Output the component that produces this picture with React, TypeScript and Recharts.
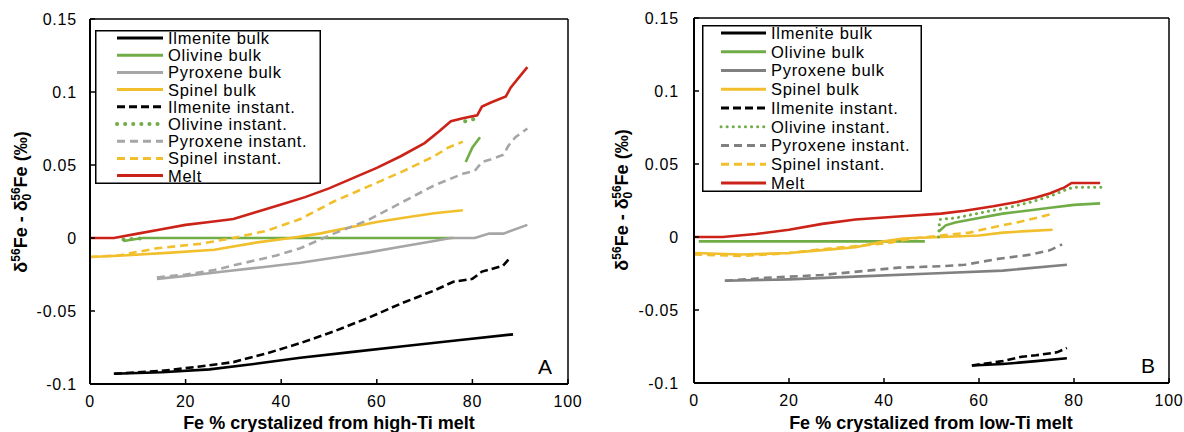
import React from 'react';
import { LineChart, Line, XAxis, YAxis, Legend, ReferenceLine, ReferenceDot } from 'recharts';

type Pair = [number, number | null];

const FONT = '"Liberation Sans", Arial, Helvetica, sans-serif';
const X_TICKS = [0, 20, 40, 60, 80, 100];
const Y_TICKS = [-0.1, -0.05, 0, 0.05, 0.1, 0.15];

// ---- panel A: high-Ti melt ----
const ilmBulkA: Pair[] = [[5, -0.093], [15, -0.092], [25, -0.09], [35, -0.086], [44, -0.082], [55, -0.078], [66, -0.074], [77, -0.07], [88.5, -0.066]];
const oliBulkA: Pair[] = [[7, -0.002], [11, 0], [76, 0], [77, null], [78.6, 0.052], [80, 0.062], [81.6, 0.069]];
const pyxBulkA: Pair[] = [[14, -0.028], [20, -0.026], [28, -0.023], [36, -0.02], [44, -0.017], [52, -0.013], [58, -0.01], [65, -0.006], [72, -0.002], [75.5, 0], [80.5, 0], [83.5, 0.003], [86.5, 0.003], [91.5, 0.009]];
const spiBulkA: Pair[] = [[0, -0.013], [7, -0.012], [17, -0.01], [26, -0.008], [35, -0.003], [42, 0], [48, 0.003], [54, 0.007], [60, 0.011], [66, 0.014], [72, 0.017], [78, 0.019]];
const ilmInstA: Pair[] = [[5, -0.093], [15, -0.091], [23, -0.088], [30, -0.085], [37, -0.079], [44, -0.072], [51, -0.064], [58, -0.055], [65, -0.045], [72, -0.036], [76, -0.03], [80, -0.028], [82, -0.023], [86.4, -0.019], [88, -0.013]];
const oliInstA: Pair[] = [[7, -0.001], [12, 0], [14, null], [78.5, 0.08], [81, 0.082]];
const pyxInstA: Pair[] = [[14, -0.027], [20, -0.025], [26, -0.022], [31, -0.018], [39, -0.012], [44, -0.007], [51, 0.003], [58, 0.012], [65, 0.024], [72, 0.036], [78, 0.044], [80.5, 0.046], [82, 0.052], [84, 0.054], [86.5, 0.057], [87.5, 0.063], [89, 0.069], [91.5, 0.075]];
const spiInstA: Pair[] = [[0, -0.013], [6, -0.012], [14, -0.007], [23, -0.004], [30, 0], [37, 0.005], [44, 0.013], [51, 0.025], [58, 0.035], [65, 0.045], [72, 0.056], [75, 0.062], [78, 0.066]];
const meltA: Pair[] = [[0, 0], [5, 0], [10, 0.003], [15, 0.006], [20, 0.009], [25, 0.011], [30, 0.013], [35, 0.018], [40, 0.023], [45, 0.028], [50, 0.034], [55, 0.041], [60, 0.048], [65, 0.056], [70, 0.065], [73, 0.073], [75.5, 0.08], [78, 0.082], [81, 0.084], [82, 0.09], [84, 0.093], [87, 0.097], [88, 0.103], [90, 0.111], [91.5, 0.117]];

// ---- panel B: low-Ti melt ----
const ilmBulkB: Pair[] = [[58.5, -0.088], [65, -0.087], [72, -0.085], [78.5, -0.083]];
const oliBulkB: Pair[] = [[1, -0.003], [48.6, -0.003], [50, null], [51.6, 0.004], [53, 0.008], [55, 0.01], [60, 0.013], [65, 0.016], [70, 0.018], [75, 0.02], [80, 0.022], [85.5, 0.023]];
const pyxBulkB: Pair[] = [[6.5, -0.03], [20, -0.029], [35, -0.027], [50, -0.025], [65, -0.023], [78.5, -0.019]];
const spiBulkB: Pair[] = [[0, -0.011], [10, -0.012], [20, -0.011], [27, -0.009], [34, -0.007], [40, -0.003], [44, -0.001], [52, 0], [60, 0.001], [65, 0.003], [70, 0.004], [75.5, 0.005]];
const ilmInstB: Pair[] = [[58.5, -0.088], [65, -0.085], [69, -0.082], [72, -0.081], [76.4, -0.079], [78.5, -0.076]];
const oliInstB: Pair[] = [[51.5, 0], [51.7, 0.012], [55, 0.013], [61, 0.017], [66, 0.02], [71, 0.024], [75, 0.028], [78, 0.032], [79.8, 0.034], [86, 0.034]];
const pyxInstB: Pair[] = [[6.5, -0.03], [15, -0.028], [27, -0.026], [43, -0.021], [52, -0.02], [57, -0.019], [64, -0.015], [71, -0.012], [75, -0.009], [77.5, -0.005]];
const spiInstB: Pair[] = [[0, -0.012], [10, -0.013], [20, -0.011], [28, -0.008], [35, -0.006], [41, -0.004], [46, -0.001], [52, 0.001], [58, 0.003], [62, 0.006], [68, 0.01], [72, 0.013], [75.5, 0.016]];
const meltB: Pair[] = [[0, 0], [6, 0], [13, 0.002], [20, 0.005], [27, 0.009], [34, 0.012], [43, 0.014], [52, 0.016], [57, 0.018], [63, 0.021], [68, 0.024], [72, 0.027], [75, 0.03], [78, 0.034], [79.5, 0.037], [85.5, 0.037]];

const BLACK = '#000000';
const GREEN = '#70ad47';
const YELLOW = '#f2bf2c';
const RED = '#cc2318';

interface Series {
  name: string;
  pts: Pair[];
  color: string;
  dash?: string;
  dotted?: boolean;
}

const makeSeries = (pts: Pair[][], pyxColor: string, dotGap: string): Series[] => [
  { name: 'Ilmenite bulk', pts: pts[0], color: BLACK },
  { name: 'Olivine bulk', pts: pts[1], color: GREEN },
  { name: 'Pyroxene bulk', pts: pts[2], color: pyxColor },
  { name: 'Spinel bulk', pts: pts[3], color: YELLOW },
  { name: 'Ilmenite instant.', pts: pts[4], color: BLACK, dash: '8 4' },
  { name: 'Olivine instant.', pts: pts[5], color: GREEN, dash: dotGap, dotted: true },
  { name: 'Pyroxene instant.', pts: pts[6], color: pyxColor, dash: '8 5' },
  { name: 'Spinel instant.', pts: pts[7], color: YELLOW, dash: '8 5' },
  { name: 'Melt', pts: pts[8], color: RED },
];

const seriesA = makeSeries([ilmBulkA, oliBulkA, pyxBulkA, spiBulkA, ilmInstA, oliInstA, pyxInstA, spiInstA, meltA], '#a6a6a6', '0.1 8');
const seriesB = makeSeries([ilmBulkB, oliBulkB, pyxBulkB, spiBulkB, ilmInstB, oliInstB, pyxInstB, spiInstB, meltB], '#808080', '0.1 6');

const toRows = (pts: Pair[]) => pts.map(([x, y]) => ({ x, y }));

function LegendBox({ series, w, h, x0, x1, tx, row0, step, dotW }: any) {
  return (
    <svg width={w} height={h} style={{ display: 'block' }}>
      <rect x={0.75} y={0.75} width={w - 1.5} height={h - 1.5} fill="#fff" stroke="#000" strokeWidth={1.5} />
      {series.map((s: Series, i: number) => {
        const y = row0 + i * step;
        return (
          <g key={s.name}>
            <line
              x1={x0}
              x2={x1}
              y1={y}
              y2={y}
              stroke={s.color}
              strokeWidth={s.dotted ? dotW : 3}
              strokeDasharray={s.dash}
              strokeLinecap={s.dotted ? 'round' : 'butt'}
            />
            <text x={tx} y={y} dy="0.36em" fontSize={16.5} letterSpacing={0.7} fontFamily={FONT} fill="#000">
              {s.name}
            </text>
          </g>
        );
      })}
    </svg>
  );
}

function YTitle({ bx, cy }: { bx: number; cy: number }) {
  return (
    <text transform={`translate(${bx},${cy}) rotate(-90)`} textAnchor="middle" fontSize={18} fontWeight={700} fontFamily={FONT} fill="#000">
      δ<tspan dy={-7} fontSize={12}>56</tspan>
      <tspan dy={7}>Fe - δ</tspan>
      <tspan dy={4} fontSize={12}>0</tspan>
      <tspan dx={-7} dy={-11} fontSize={12}>56</tspan>
      <tspan dy={7}>Fe  (‰)</tspan>
    </text>
  );
}

function XTitle({ cx, by, text }: { cx: number; by: number; text: string }) {
  return (
    <text x={cx} y={by} textAnchor="middle" fontSize={18} fontWeight={700} fontFamily={FONT} fill="#000">
      {text}
    </text>
  );
}

interface PanelProps {
  series: Series[];
  width: number;
  margin: { top: number; right: number; bottom: number; left: number };
  tickMarginY: number;
  yTitle: { bx: number; cy: number };
  xTitle: { cx: number; by: number; text: string };
  letter: string;
  letterPos: [number, number];
  legend: any;
  dotW: number;
}

function Panel({ series, width, margin, tickMarginY, yTitle, xTitle, letter, letterPos, legend, dotW }: PanelProps) {
  const tick = { fontSize: 16, fill: '#000', fontFamily: FONT, letterSpacing: 0.8 };
  return (
    <LineChart width={width} height={432} margin={margin}>
      <XAxis
        dataKey="x"
        type="number"
        domain={[0, 100]}
        ticks={X_TICKS}
        allowDataOverflow
        height={30}
        tick={tick}
        tickSize={-5}
        tickMargin={17}
        axisLine={{ stroke: '#000', strokeWidth: 2 }}
        tickLine={{ stroke: '#000', strokeWidth: 1.5 }}
        label={{ content: () => <XTitle {...xTitle} /> }}
      />
      <YAxis
        type="number"
        domain={[-0.1, 0.15]}
        ticks={Y_TICKS}
        allowDataOverflow
        width={60}
        tick={tick}
        tickSize={-5}
        tickMargin={tickMarginY}
        axisLine={{ stroke: '#000', strokeWidth: 2 }}
        tickLine={{ stroke: '#000', strokeWidth: 1.5 }}
        label={{ content: () => <YTitle {...yTitle} /> }}
      />
      <ReferenceLine y={0.15} stroke="#000" strokeWidth={1.5} />
      <ReferenceLine x={100} stroke="#000" strokeWidth={1.5} />
      <ReferenceDot
        x={letterPos[0]}
        y={letterPos[1]}
        r={0}
        fill="none"
        stroke="none"
        label={{ value: letter, position: 'center', fontSize: 21, fill: '#000', fontFamily: FONT }}
      />
      {series.map((s) => (
        <Line
          key={s.name}
          data={toRows(s.pts)}
          dataKey="y"
          name={s.name}
          type="linear"
          stroke={s.color}
          strokeWidth={s.dotted ? dotW : 2.6}
          strokeDasharray={s.dash}
          strokeLinecap={s.dotted ? 'round' : 'butt'}
          dot={false}
          activeDot={false}
          connectNulls={false}
          isAnimationActive={false}
        />
      ))}
      <Legend
        layout="vertical"
        align="center"
        verticalAlign="middle"
        wrapperStyle={{ position: 'absolute', left: legend.left, top: legend.top, width: legend.w, height: legend.h }}
        content={() => <LegendBox series={series} dotW={dotW} {...legend} />}
      />
    </LineChart>
  );
}

export default function App() {
  return (
    <div style={{ position: 'absolute', left: 0, top: 0, width: 1184, height: 432, background: '#fff', overflow: 'hidden' }}>
      <div style={{ position: 'absolute', left: 0, top: 0 }}>
        <Panel
          series={seriesA}
          width={590}
          margin={{ top: 19, right: 22, bottom: 18, left: 30 }}
          tickMarginY={18}
          yTitle={{ bx: 27, cy: 202 }}
          xTitle={{ cx: 329, by: 429, text: 'Fe % crystalized from high-Ti  melt' }}
          letter="A"
          letterPos={[95.2, -0.088]}
          legend={{ left: 95, top: 30, w: 226, h: 154, x0: 22, x1: 68, tx: 73, row0: 8, step: 17.2 }}
          dotW={4}
        />
      </div>
      <div style={{ position: 'absolute', left: 590, top: 0 }}>
        <Panel
          series={seriesB}
          width={594}
          margin={{ top: 18, right: 15, bottom: 19, left: 44 }}
          tickMarginY={20}
          yTitle={{ bx: 38, cy: 200 }}
          xTitle={{ cx: 341, by: 429, text: 'Fe % crystalized from low-Ti  melt' }}
          letter="B"
          letterPos={[95.6, -0.088]}
          legend={{ left: 112, top: 25, w: 220, h: 167, x0: 19, x1: 64, tx: 69, row0: 8, step: 18.75 }}
          dotW={3}
        />
      </div>
    </div>
  );
}
